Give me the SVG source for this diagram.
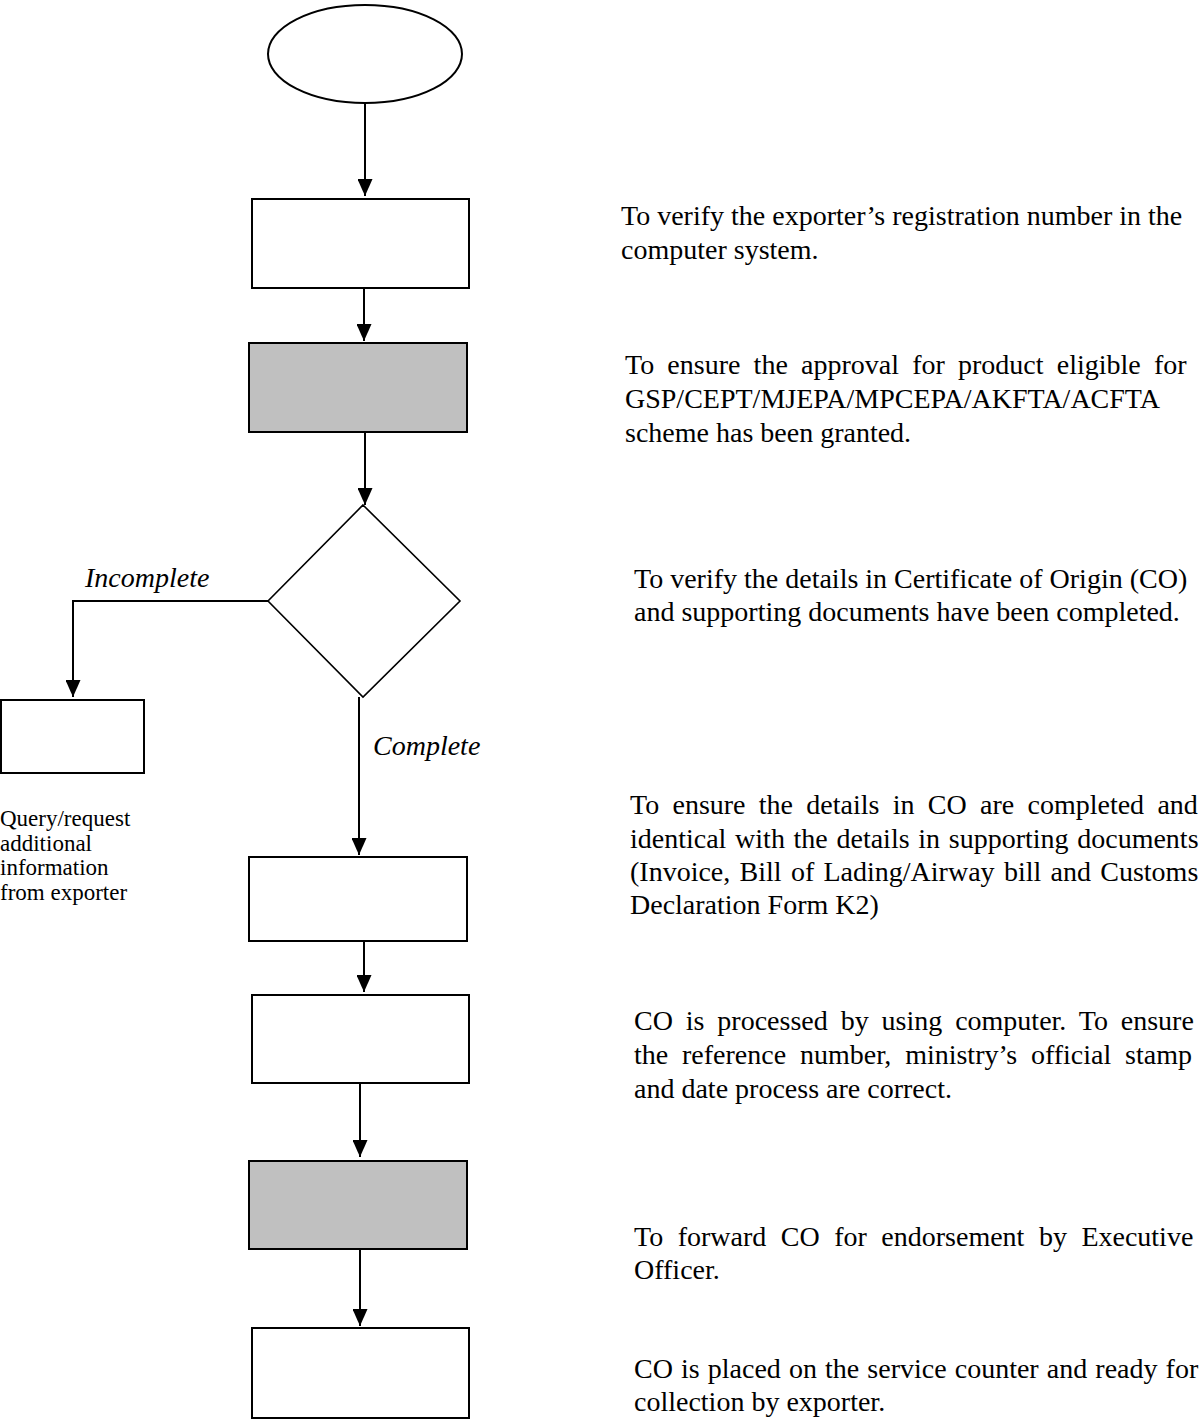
<svg xmlns="http://www.w3.org/2000/svg" width="1204" height="1420" viewBox="0 0 1204 1420">
<style>
.box{fill:#ffffff;stroke:#000000;stroke-width:2}
.gray{fill:#c0c0c0;stroke:#000000;stroke-width:2}
.dia{fill:#ffffff;stroke:#000000;stroke-width:1.6}
.con{fill:none;stroke:#000000;stroke-width:2;marker-end:url(#ah)}
.t{font-family:"Liberation Serif","Times New Roman",serif;font-size:28px;fill:#000000}
.s{font-family:"Liberation Serif","Times New Roman",serif;font-size:23px;fill:#000000}
.i{font-family:"Liberation Serif","Times New Roman",serif;font-size:28px;font-style:italic;fill:#000000}
</style>
<defs>
<marker id="ah" markerUnits="userSpaceOnUse" viewBox="0 0 17 15" markerWidth="17" markerHeight="15" refX="17" refY="7.5" orient="auto">
<path d="M0,0 L17,7.5 L0,15 z" fill="#000000"/>
</marker>
</defs>
<g id="connectors">
<line class="con" x1="365" y1="103" x2="365" y2="196"/>
<line class="con" x1="364" y1="288" x2="364" y2="341"/>
<line class="con" x1="365" y1="432" x2="365" y2="505"/>
<polyline class="con" points="268,601 73,601 73,697"/>
<line class="con" x1="359" y1="697" x2="359" y2="855"/>
<line class="con" x1="364" y1="941" x2="364" y2="992"/>
<line class="con" x1="360" y1="1083" x2="360" y2="1157"/>
<line class="con" x1="360" y1="1249" x2="360" y2="1326"/>
<text class="i" x="85" y="587">Incomplete</text>
<text class="i" x="373" y="755">Complete</text>
</g>
<g id="start"><ellipse cx="365" cy="54" rx="97" ry="49" class="box"/></g>
<g id="n1"><rect x="252" y="199" width="217" height="89" class="box"/></g>
<g id="n2"><rect x="249" y="343" width="218" height="89" class="gray"/></g>
<g id="decision"><polygon points="363,505 460,601 363,697 268,601" class="dia"/></g>
<g id="query"><rect x="1" y="700" width="143" height="73" class="box"/></g>
<g id="n4"><rect x="249" y="857" width="218" height="84" class="box"/></g>
<g id="n5"><rect x="252" y="995" width="217" height="88" class="box"/></g>
<g id="n6"><rect x="249" y="1161" width="218" height="88" class="gray"/></g>
<g id="n7"><rect x="252" y="1328" width="217" height="90" class="box"/></g>
<g id="notes">
<text class="s" x="0" y="826">Query/request</text>
<text class="s" x="0" y="851">additional</text>
<text class="s" x="0" y="875">information</text>
<text class="s" x="0" y="900">from exporter</text>

<text class="t" x="621" y="225">To verify the exporter’s registration number in the</text>
<text class="t" x="621" y="259">computer system.</text>

<text class="t" x="625" y="374" word-spacing="6.2">To ensure the approval for product eligible for</text>
<text class="t" x="625" y="408">GSP/CEPT/MJEPA/MPCEPA/AKFTA/ACFTA</text>
<text class="t" x="625" y="442">scheme has been granted.</text>

<text class="t" x="634" y="588">To verify the details in Certificate of Origin (CO)</text>
<text class="t" x="634" y="621">and supporting documents have been completed.</text>

<text class="t" x="630" y="814" word-spacing="6.3">To ensure the details in CO are completed and</text>
<text class="t" x="630" y="848" word-spacing="1.7">identical with the details in supporting documents</text>
<text class="t" x="630" y="881" word-spacing="2.3">(Invoice, Bill of Lading/Airway bill and Customs</text>
<text class="t" x="630" y="914">Declaration Form K2)</text>

<text class="t" x="634" y="1030" word-spacing="5.9">CO is processed by using computer. To ensure</text>
<text class="t" x="634" y="1064" word-spacing="6.8">the reference number, ministry’s official stamp</text>
<text class="t" x="634" y="1098">and date process are correct.</text>

<text class="t" x="634" y="1246" word-spacing="7.5">To forward CO for endorsement by Executive</text>
<text class="t" x="634" y="1279">Officer.</text>

<text class="t" x="634" y="1378" word-spacing="1.1">CO is placed on the service counter and ready for</text>
<text class="t" x="634" y="1411">collection by exporter.</text>
</g>
</svg>
